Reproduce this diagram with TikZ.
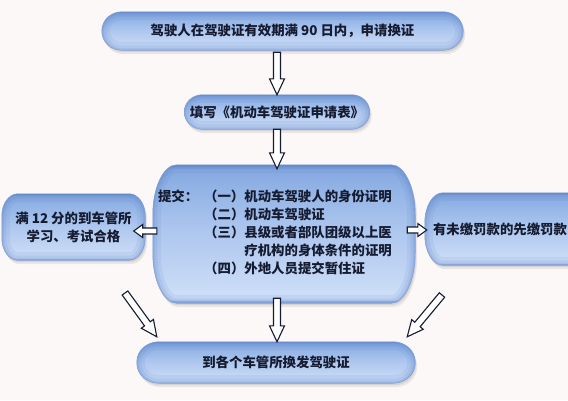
\documentclass[tikz,border=0pt]{standalone}
\usepackage{fontspec}
\newfontfamily\cjk{Noto Sans CJK SC}
\usetikzlibrary{calc,backgrounds}
\definecolor{bg}{HTML}{FCF8F8}
\definecolor{ink}{HTML}{151B30}
\definecolor{sA}{HTML}{6F93D0}
\definecolor{sB}{HTML}{86A8E0}
\definecolor{sC}{HTML}{93B4E6}
\definecolor{sD}{HTML}{AFC8EF}
\definecolor{sE}{HTML}{C3D6F4}
\definecolor{sF}{HTML}{CFE0F8}
\definecolor{sG}{HTML}{86A6DA}
\definecolor{edgeB}{HTML}{7F9FD6}
\definecolor{rimc}{HTML}{4F78C2}
\pgfdeclareverticalshading{pill}{100bp}{color(0bp)=(sG); color(25bp)=(sG); color(26.5bp)=(sF); color(35bp)=(sE); color(50bp)=(sD); color(66bp)=(sC); color(73.5bp)=(sB); color(75bp)=(sA); color(100bp)=(sA)}
\newcommand\eshape[3]{($(#1.north west)+(#2,0)$) -- ($(#1.north east)+(-#2,0)$)
  arc[start angle=90,end angle=0,x radius=#2,y radius=#3] -- ($(#1.south east)+(0,#3)$)
  arc[start angle=0,end angle=-90,x radius=#2,y radius=#3] -- ($(#1.south west)+(#2,0)$)
  arc[start angle=270,end angle=180,x radius=#2,y radius=#3] -- ($(#1.north west)+(0,-#3)$)
  arc[start angle=180,end angle=90,x radius=#2,y radius=#3] -- cycle}
\newcommand\ebox[3]{%
  \fill[black,opacity=0.07,transform canvas={shift={(2pt,-4pt)}}] \eshape{#1}{#2}{#3};
  \fill[black,opacity=0.08,transform canvas={shift={(1pt,-2pt)}}] \eshape{#1}{#2}{#3};
  \shade[shading=pill] \eshape{#1}{#2}{#3};
  \begin{scope}
    \clip \eshape{#1}{#2}{#3};
    \draw[rimc, line width=16pt, opacity=0.10] \eshape{#1}{#2}{#3};
    \draw[rimc, line width=9pt, opacity=0.12] \eshape{#1}{#2}{#3};
    \draw[rimc, line width=3.5pt, opacity=0.18] \eshape{#1}{#2}{#3};
  \end{scope}
  \draw[edgeB, line width=0.6pt] \eshape{#1}{#2}{#3};}
\tikzset{
  boxt/.style={rectangle, inner sep=0pt, align=center, text=ink,
    font=\cjk\bfseries\fontsize{13.4}{18}\selectfont},
  hw/.store in=\hw, hh/.store in=\hh, hl/.store in=\hl,
  hw=3.5pt, hh=7.5pt, hl=16pt,
  harrow/.style={draw=ink, line width=1.1pt, fill=white, line join=miter,
    to path={let \p1=($(\tikztotarget)-(\tikztostart)$), \n1={atan2(\y1,\x1)},
      \n2={veclen(\x1,\y1)-\hl} in
      -- ($(\tikztostart)+(\n1+90:\hw)$)
      -- ($(\tikztostart)+(\n1+90:\hw)+(\n1:\n2)$)
      -- ($(\tikztostart)+(\n1+90:\hh)+(\n1:\n2)$)
      -- (\tikztotarget)
      -- ($(\tikztostart)+(\n1-90:\hh)+(\n1:\n2)$)
      -- ($(\tikztostart)+(\n1-90:\hw)+(\n1:\n2)$)
      -- ($(\tikztostart)+(\n1-90:\hw)$)
      -- cycle}},
  smallarrow/.style={harrow, hw=3pt, hh=6.5pt, hl=9pt}
}
\begin{document}
\begin{tikzpicture}[x=1pt,y=1pt]
\path[use as bounding box] (0,0) rectangle (568,-400);
\clip (0,0) rectangle (568,-400);

\node[boxt, minimum width=361pt, minimum height=38pt] (b1) at (282.5,-31)
  {驾驶人在驾驶证有效期满 90 日内，申请换证};
\node[boxt, minimum width=185pt, minimum height=34pt] (b2) at (277,-112)
  {填写《机动车驾驶证申请表》};
\node[boxt, minimum width=262pt, minimum height=138pt, inner xsep=5pt,
  text width=252pt, align=left] (b3) at (284,-234)
  {\raisebox{4pt}{\begin{tabular}{@{}l@{\hspace{6pt}}l@{}l@{}}
  提交：&（一）&机动车驾驶人的身份证明\\
  &（二）&机动车驾驶证\\
  &（三）&县级或者部队团级以上医\\
  &&疗机构的身体条件的证明\\
  &（四）&外地人员提交暂住证
  \end{tabular}}};
\node[boxt, minimum width=143pt, minimum height=66pt] (bl) at (73.5,-227)
  {满 12 分的到车管所\\学习、考试合格};
\node[boxt, minimum width=194pt, minimum height=72pt, inner xsep=8pt,
  text width=178pt, align=left] (br) at (522,-229)
  {有未缴罚款的先缴罚款};
\node[boxt, minimum width=278pt, minimum height=41pt] (b4) at (276,-362.5)
  {到各个车管所换发驾驶证};

\begin{scope}[on background layer]
  \fill[bg] (0,0) rectangle (568,-400);
  \ebox{b1}{20pt}{19pt}
  \ebox{b2}{18pt}{17pt}
  \ebox{b3}{24pt}{50pt}
  \ebox{bl}{16pt}{22pt}
  \ebox{br}{18pt}{30pt}
  \ebox{b4}{22pt}{20pt}
\end{scope}

\coordinate (dls) at (125,-293);
\coordinate (drs) at (442,-295);

\draw[harrow] ($(b2.north |- b1.south)+(0,-2pt)$) to (b2.north);
\draw[harrow] (b2.south) to ($(b2.south |- b3.north)+(0,-4pt)$);
\draw[harrow] ($(b2.south |- b3.south)+(0,5pt)$) to (b2.south |- b4.north);
\draw[smallarrow] ($(b3.west)+(4pt,3pt)$) to ($(bl.east)+(-11.5pt,-4pt)$);
\draw[smallarrow] ($(b3.east)+(-8pt,4pt)$) to ($(br.west)+(2pt,-1pt)$);
\draw[harrow] (dls) to ($(b4.north west)+(20pt,5pt)$);
\draw[harrow] (drs) to ($(b4.north east)+(-8pt,5pt)$);
\end{tikzpicture}
\end{document}
